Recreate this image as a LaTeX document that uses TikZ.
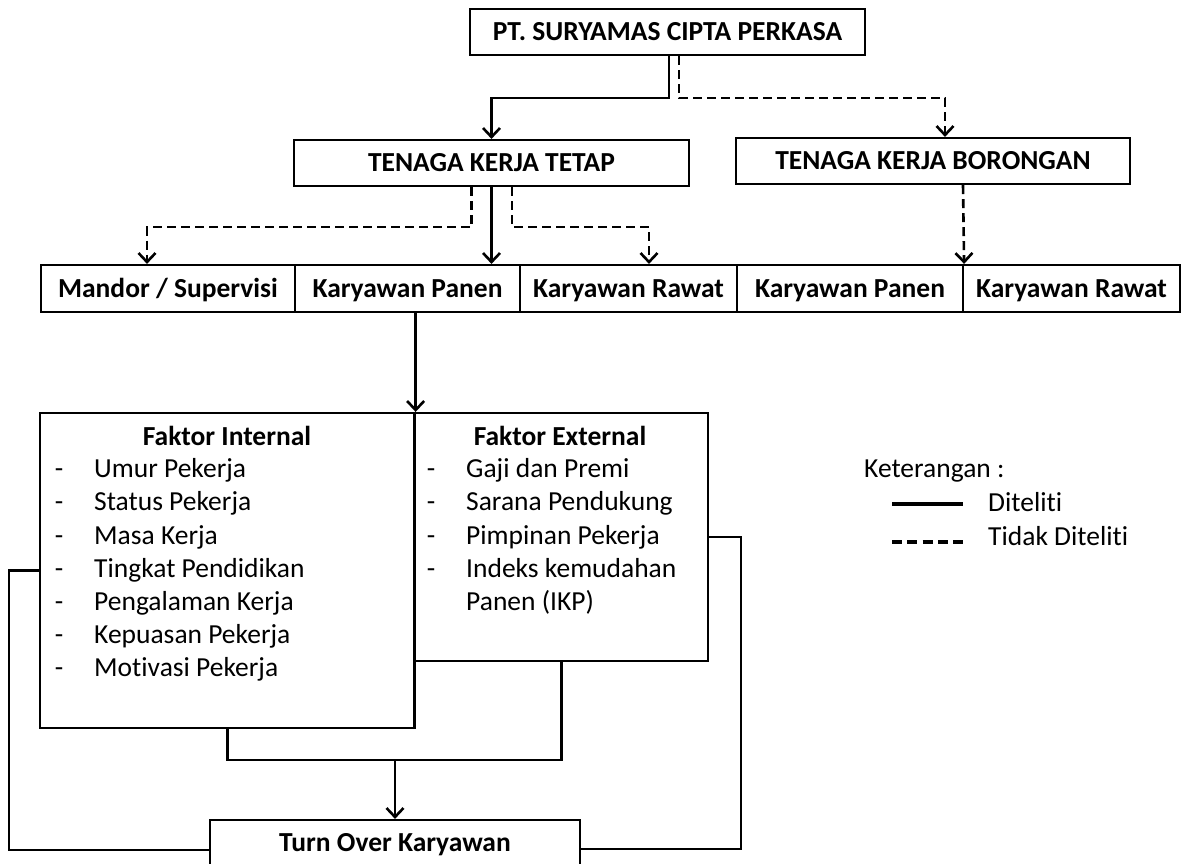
\documentclass[tikz,border=0pt]{standalone}
\usepackage{fontspec}
\setmainfont{Carlito}[Ligatures=NoCommon]
\usetikzlibrary{arrows.meta}
\begin{document}
\begin{tikzpicture}[x=1pt,y=-1pt,
  txt/.style={inner sep=0pt,font=\fontsize{27.5}{33}\selectfont},
  btxt/.style={inner sep=0pt,font=\fontsize{27.5}{33}\selectfont\bfseries},
  box/.style={draw,line width=2.2pt,inner sep=0pt,text height=17.7pt,text depth=0pt,font=\fontsize{27.5}{33}\selectfont\bfseries},
  frame/.style={draw,line width=2.2pt,inner sep=0pt},
  conn/.style={line width=2.6pt},
  arr/.style={-{Straight Barb[length=9pt,width=17pt]}},
  dsh/.style={dash pattern=on 9pt off 5pt},
]
\useasboundingbox (0,0) rectangle (1184,863);

% boxes
\node[box,minimum width=395pt,minimum height=46pt] (top) at (667.5,32) {PT. SURYAMAS CIPTA PERKASA};
\node[box,minimum width=395pt,minimum height=46pt] (tkt) at (491.5,163) {TENAGA KERJA TETAP};
\node[box,minimum width=394pt,minimum height=46pt] (tkb) at (933,161) {TENAGA KERJA BORONGAN};

\node[box,minimum width=254pt,minimum height=47pt] (c1) at (168,288.5) {Mandor / Supervisi};
\node[box,minimum width=225pt,minimum height=47pt] (c2) at (407.5,288.5) {Karyawan Panen};
\node[box,minimum width=217pt,minimum height=47pt] (c3) at (628.5,288.5) {Karyawan Rawat};
\node[box,minimum width=226pt,minimum height=47pt] (c4) at (850,288.5) {Karyawan Panen};
\node[box,minimum width=217pt,minimum height=47pt] (c5) at (1071.5,288.5) {Karyawan Rawat};

\node[frame,minimum width=293.5pt,minimum height=248pt] (ext) at (561.25,537) {};
\node[frame,minimum width=374.5pt,minimum height=315pt] (int) at (227.25,570.5) {};

\node[box,text depth=6pt,minimum width=370pt,minimum height=52pt] (to) at (395,846) {Turn Over Karyawan};

% box contents
\node[btxt,anchor=base] (tint) at (227,445) {Faktor Internal};
\node[btxt,anchor=base] (text) at (560,445) {Faktor External};
\foreach \t [count=\i] in {Umur Pekerja,Status Pekerja,Masa Kerja,Tingkat Pendidikan,Pengalaman Kerja,Kepuasan Pekerja,Motivasi Pekerja}{
  \node[txt,anchor=base] (di\i) at (59,444.5+33.2*\i) {-};
  \node[txt,anchor=base west] (ii\i) at (94,444.5+33.2*\i) {\t};
}
\foreach \t [count=\i] in {Gaji dan Premi,Sarana Pendukung,Pimpinan Pekerja,Indeks kemudahan}{
  \node[txt,anchor=base] (de\i) at (431,444.5+33.2*\i) {-};
  \node[txt,anchor=base west] (ie\i) at (466,444.5+33.2*\i) {\t};
}
\node[txt,anchor=base west] (ie5) at (466,610.5) {Panen (IKP)};

% connectors
\draw[conn,arr] ([xshift=1.5pt]top.south) -- ++(0,42) -| (tkt.north);
\draw[conn,arr,dsh] ([xshift=11.5pt]top.south) -- ++(0,42) -| ([xshift=12pt]tkb.north);

\draw[conn,arr,dsh] ([xshift=-20pt]tkt.south) -- ++(0,40) -| ([xshift=-21pt]c1.north);
\draw[conn,arr] (tkt.south) -- (tkt.south |- c2.north);
\draw[conn,arr,dsh] ([xshift=20.5pt]tkt.south) -- ++(0,40) -| ([xshift=20.5pt]c3.north);
\draw[conn,arr,dsh] ([xshift=30pt]tkb.south) -- (c4.north east);

\draw[conn,arr] (int.north east |- c2.south) -- (int.north east);

\draw[conn] (int.south) -- ++(0,31) -| (ext.south);
\coordinate (j) at (395,759);
\draw[conn,arr] (j) -- (to.north);

\draw[conn] (int.west) -- ++(-30,0) |- ([yshift=-4pt]to.west);
\draw[conn] (ext.east) -- ++(32,0) |- ([yshift=-3pt]to.east);

% legend
\node[txt,anchor=base west] (ket) at (864,477.7) {Keterangan :};
\coordinate (l1a) at (892,504);
\coordinate (l1b) at (963,504);
\draw[line width=3.2pt] (l1a) -- (l1b);
\node[txt,anchor=base west] (ld1) at (988,511) {Diteliti};
\coordinate (l2a) at (892,542);
\coordinate (l2b) at (963,542);
\draw[line width=3.2pt,dash pattern=on 10pt off 5.3pt] (l2a) -- (l2b);
\node[txt,anchor=base west] (ld2) at (988,545) {Tidak Diteliti};
\end{tikzpicture}
\end{document}
